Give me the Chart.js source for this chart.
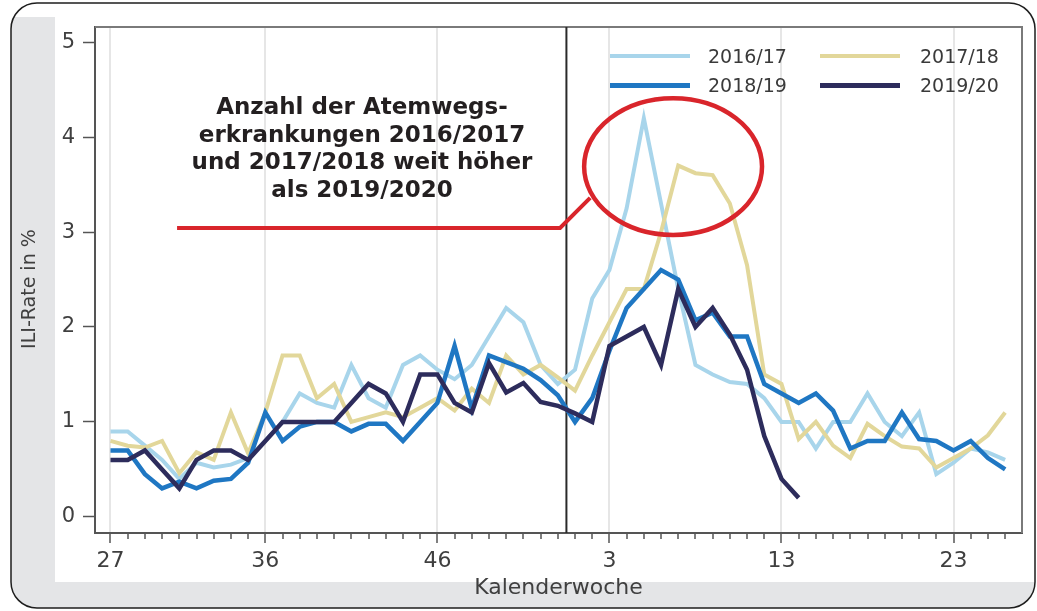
<!DOCTYPE html>
<html><head><meta charset="utf-8">
<script src="https://cdn.jsdelivr.net/npm/chart.js@4/dist/chart.umd.min.js"></script>
<style>
html,body{margin:0;padding:0;background:#fff;}
#wrap{position:relative;width:1037px;height:611px;overflow:hidden;}
canvas{position:absolute;left:0;top:0;}
.note{position:absolute;left:162px;top:93px;width:400px;text-align:center;font:bold 23px/27.5px "DejaVu Sans",sans-serif;color:#231f20;}
.lg{position:absolute;font:19px/19px "DejaVu Sans",sans-serif;color:#3a3a3a;white-space:nowrap;}
.ll{position:absolute;}
</style></head><body>
<div id="wrap"><canvas id="c" width="1037" height="611"></canvas>
<div class="note">Anzahl der Atemwegs-<br>erkrankungen 2016/2017<br>und 2017/2018 weit höher<br>als 2019/2020</div>
<div id="legend"></div></div>
<script>
// Kalenderwochen (Saison: KW 27 bis KW 26 des Folgejahres)
const weeks = [27,28,29,30,31,32,33,34,35,36,37,38,39,40,41,42,43,44,45,46,47,48,49,50,51,52,53,
               1,2,3,4,5,6,7,8,9,10,11,12,13,14,15,16,17,18,19,20,21,22,23,24,25,26];
const majorWeeks = [27,36,46,3,13,23];
const seasons = ['2016/17','2017/18','2018/19','2019/20'];
const colors = ['#a8d5eb','#e2d79a','#1f77c3','#2d2c5c'];

const ili1617 = [0.9,0.9,0.75,0.6,0.4,0.57,0.52,0.55,0.62,0.8,1.0,1.3,1.2,1.15,1.6,1.25,1.15,1.6,1.7,1.55,
                 1.45,1.6,1.9,2.2,2.05,1.6,1.4,1.55,2.3,2.6,3.25,4.2,3.3,2.4,1.6,1.5,1.42,1.4,1.25,1.0,
                 1.0,0.72,1.0,1.0,1.3,1.0,0.85,1.1,0.45,0.57,0.72,0.68,0.6];
const ili1718 = [0.8,0.75,0.73,0.8,0.46,0.68,0.6,1.1,0.67,1.1,1.7,1.7,1.25,1.4,1.0,1.05,1.1,1.05,1.15,1.25,
                 1.12,1.35,1.2,1.7,1.5,1.6,1.47,1.33,1.7,2.05,2.4,2.4,3.0,3.7,3.62,3.6,3.3,2.65,1.5,1.4,
                 0.82,1.0,0.75,0.62,0.98,0.85,0.74,0.72,0.52,0.62,0.72,0.86,1.1];
const ili1819 = [0.7,0.7,0.45,0.3,0.37,0.3,0.38,0.4,0.57,1.1,0.8,0.95,1.0,1.0,0.9,0.98,0.98,0.8,1.0,1.2,
                 1.8,1.14,1.7,1.63,1.56,1.44,1.28,1.0,1.25,1.75,2.2,2.4,2.6,2.5,2.07,2.15,1.9,1.9,1.4,1.3,
                 1.2,1.3,1.12,0.72,0.8,0.8,1.1,0.82,0.8,0.7,0.8,0.62,0.5];
const ili1920 = [0.6,0.6,0.7,0.5,0.3,0.6,0.7,0.7,0.6,0.8,1.0,1.0,1.0,1.0,1.2,1.4,1.3,1.0,1.5,1.5,
                 1.2,1.1,1.62,1.31,1.41,1.21,1.17,1.09,1.0,1.8,1.9,2.0,1.6,2.4,2.0,2.2,1.92,1.55,0.85,0.4,
                 0.2];
const series = [ili1617, ili1718, ili1819, ili1920];
const widths = [4,4,4.5,4.5];
const yearBreak = weeks.indexOf(1) - 0.5;
const majorIdx = majorWeeks.map(w => weeks.indexOf(w));

Chart.defaults.font.family = "'DejaVu Sans', sans-serif";

const deco = {
  id: 'deco',
  beforeDraw(chart) {
    const ctx = chart.ctx;
    ctx.save();
    ctx.fillStyle = '#fff';
    ctx.fillRect(0, 0, 1037, 611);
    ctx.beginPath();
    ctx.roundRect(11, 3, 1024, 605, 26);
    ctx.save();
    ctx.clip();
    ctx.fillStyle = '#e4e5e7';
    ctx.fillRect(0, 0, 1037, 611);
    ctx.fillStyle = '#fff';
    ctx.fillRect(55, 0, 1000, 582);
    ctx.fillRect(0, 0, 60, 17);
    ctx.restore();
    ctx.strokeStyle = '#1e1e1e';
    ctx.lineWidth = 1.5;
    ctx.stroke();
    ctx.restore();
  },
  beforeDatasetsDraw(chart) {
    const {ctx, chartArea: a, scales: {x}} = chart;
    ctx.save();
    ctx.strokeStyle = '#7a7a7a';
    ctx.lineWidth = 2;
    ctx.beginPath();
    ctx.moveTo(a.left, a.top);
    ctx.lineTo(a.right, a.top);
    ctx.lineTo(a.right, a.bottom);
    ctx.stroke();
    const px = x.getPixelForValue(yearBreak);
    ctx.strokeStyle = '#2a2a2a';
    ctx.lineWidth = 2;
    ctx.beginPath();
    ctx.moveTo(px, a.top);
    ctx.lineTo(px, a.bottom);
    ctx.stroke();
    ctx.restore();
  },
  afterDraw(chart) {
    const {ctx, scales: {x, y}} = chart;
    ctx.save();
    ctx.strokeStyle = '#d9252b';
    ctx.lineWidth = 4.5;
    const cx = x.getPixelForValue(32.7), cy = y.getPixelForValue(3.69);
    const rx = x.getPixelForValue(32.7 + 5.17) - cx;
    const ry = y.getPixelForValue(3.69) - y.getPixelForValue(3.69 + 0.72);
    ctx.beginPath();
    ctx.ellipse(cx, cy, rx, ry, 0, 0, Math.PI * 2);
    ctx.stroke();
    ctx.lineWidth = 4;
    ctx.lineJoin = 'miter';
    ctx.beginPath();
    ctx.moveTo(x.getPixelForValue(3.87), y.getPixelForValue(3.043));
    ctx.lineTo(x.getPixelForValue(26.13), y.getPixelForValue(3.043));
    ctx.lineTo(x.getPixelForValue(27.88), y.getPixelForValue(3.36));
    ctx.stroke();
    ctx.restore();
  }
};

new Chart(document.getElementById('c'), {
  type: 'line',
  data: {
    datasets: series.map((vals, k) => ({
      label: seasons[k],
      data: vals.map((v, i) => ({x: i, y: v})),
      borderColor: colors[k],
      backgroundColor: colors[k],
      borderWidth: widths[k],
      pointRadius: 0,
      tension: 0,
      fill: false,
      order: 4 - k
    }))
  },
  options: {
    responsive: false,
    animation: false,
    devicePixelRatio: 1,
    layout: {padding: {left: 15, top: 27, right: 15, bottom: 0}},
    plugins: {legend: {display: false}, tooltip: {enabled: false}},
    scales: {
      x: {
        type: 'linear', min: -0.9, max: 52.98,
        afterFit(s) { s.height = 78; },
        ticks: {
          stepSize: 1, autoSkip: false, maxRotation: 0, minRotation: 0, includeBounds: false,
          padding: 5, color: '#3f3f3f', font: {size: 22},
          callback: v => majorIdx.includes(v) ? String(weeks[v]) : ''
        },
        grid: {
          drawOnChartArea: true,
          color: c => (c.tick && majorIdx.includes(c.tick.value)) ? '#e6e6e6' : 'rgba(0,0,0,0)',
          lineWidth: 2,
          tickLength: 10, tickColor: '#555', tickWidth: 1.5,
          tickBorderDash: c => (c.tick && majorIdx.includes(c.tick.value)) ? [] : [5, 30]
        },
        border: {display: true, color: '#555', width: 2},
        title: {display: true, text: 'Kalenderwoche', color: '#3f3f3f', font: {size: 22}, padding: {top: 0, bottom: 10}}
      },
      y: {
        min: -0.17, max: 5.16,
        afterFit(s) { s.width = 80; },
        ticks: {stepSize: 1, includeBounds: false, padding: 8, color: '#3f3f3f', font: {size: 21}},
        grid: {drawOnChartArea: false, tickLength: 12, tickColor: '#555', tickWidth: 1.5},
        border: {display: true, color: '#555', width: 2},
        title: {display: true, text: 'ILI-Rate in %   ', color: '#3f3f3f', font: {size: 19}, padding: {top: 4, bottom: 0}}
      }
    }
  },
  plugins: [deco]
});

// Legende
const lg = document.getElementById('legend');
const lineX = [610, 820], textX = [708, 920], rowY = [56, 85], lw = [4, 4, 5, 5];
seasons.forEach((s, k) => {
  const col = k % 2, row = Math.floor(k / 2);
  const l = document.createElement('div');
  l.className = 'll';
  l.style.cssText = `left:${lineX[col]}px;top:${rowY[row] - lw[k] / 2}px;width:80px;height:${lw[k]}px;background:${colors[k]};`;
  lg.appendChild(l);
  const t = document.createElement('div');
  t.className = 'lg';
  t.textContent = s;
  t.style.left = textX[col] + 'px';
  t.style.top = (rowY[row] - 9) + 'px';
  lg.appendChild(t);
});
</script>
</body></html>
